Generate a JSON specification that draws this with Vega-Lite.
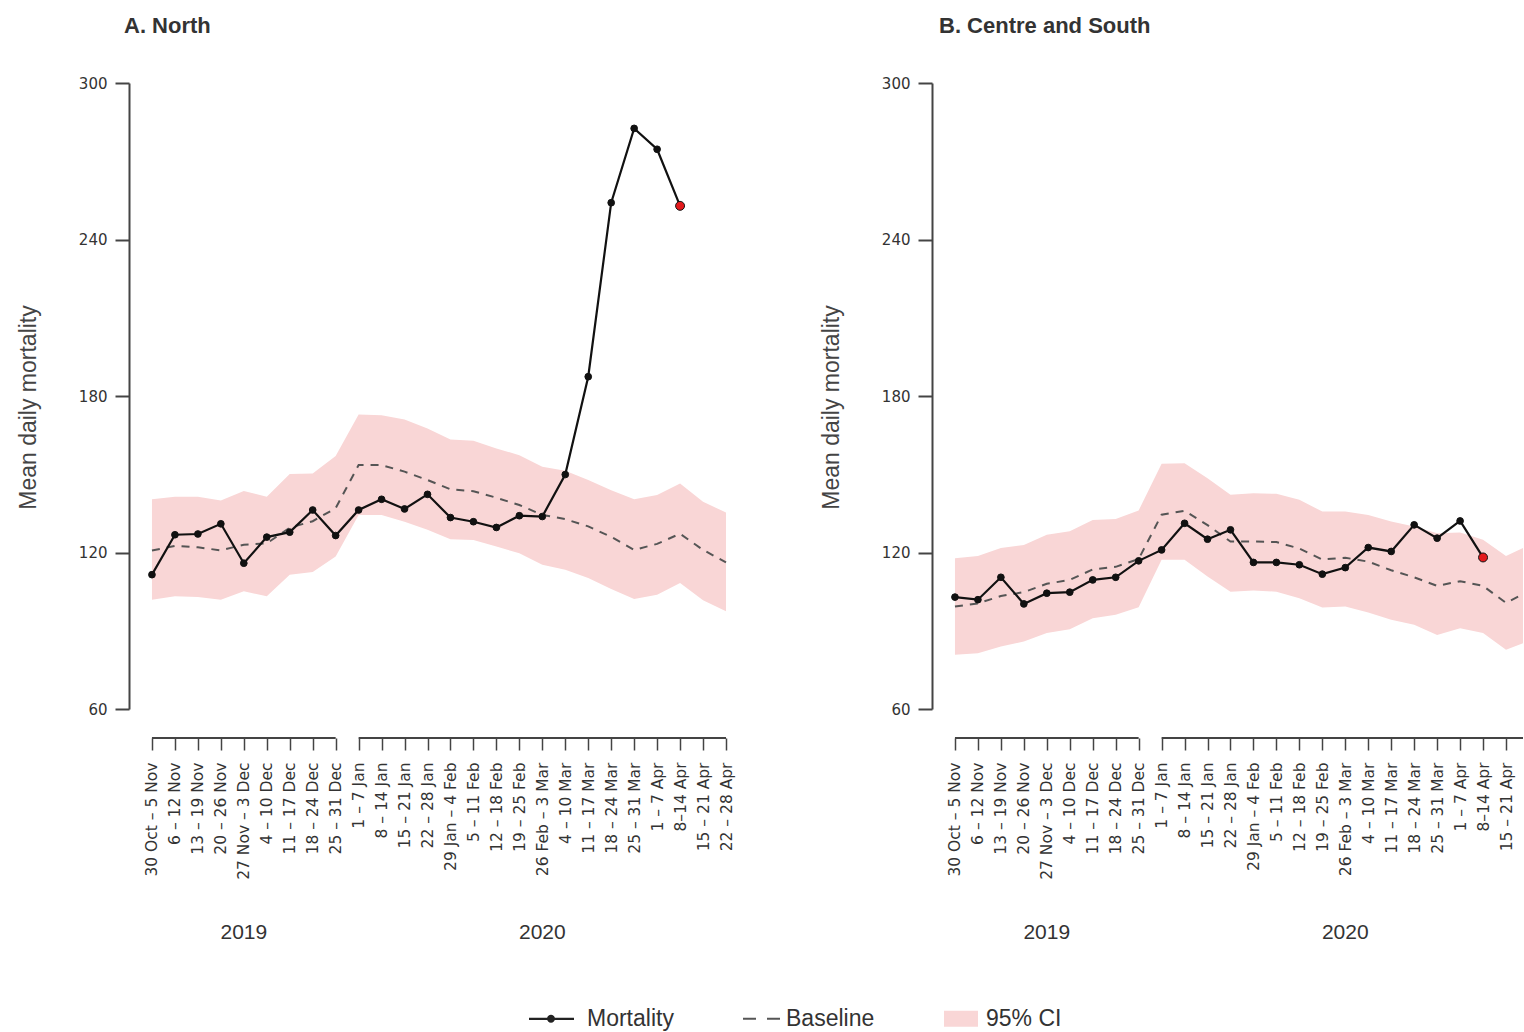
{
  "$schema": "https://vega.github.io/schema/vega-lite/v6.json",
  "padding": {"left": 17, "top": 15, "right": 0, "bottom": 0},
  "background": "white",
  "config": {
    "view": {"stroke": null},
    "font": "Liberation Sans",
    "axis": {"grid": false},
    "axisY": {"domainColor": "#444", "domainWidth": 2, "tickColor": "#444", "tickWidth": 2, "tickSize": 14, "labelFont": "DejaVu Sans", "labelFontSize": 15, "labelColor": "#333", "labelPadding": 8, "titleFont": "Liberation Sans", "titleFontSize": 23, "titleFontWeight": "normal", "titleColor": "#444", "titlePadding": 38}
  },
  "spacing": 206,
  "bounds": "flush",
  "datasets": {
    "north": [
      {"i": 0, "wk": "30 Oct – 5 Nov", "mort": 111.5, "base": 120.8, "lo": 101.9, "hi": 140.4},
      {"i": 1, "wk": "6 – 12 Nov", "mort": 126.8, "base": 122.5, "lo": 103.2, "hi": 141.4},
      {"i": 2, "wk": "13 – 19 Nov", "mort": 127.1, "base": 122.0, "lo": 102.9, "hi": 141.4},
      {"i": 3, "wk": "20 – 26 Nov", "mort": 131.0, "base": 120.8, "lo": 101.9, "hi": 139.9},
      {"i": 4, "wk": "27 Nov – 3 Dec", "mort": 115.9, "base": 123.0, "lo": 105.1, "hi": 143.6},
      {"i": 5, "wk": "4 – 10 Dec", "mort": 125.9, "base": 123.5, "lo": 103.2, "hi": 141.4},
      {"i": 6, "wk": "11 – 17 Dec", "mort": 127.8, "base": 129.5, "lo": 111.5, "hi": 150.1},
      {"i": 7, "wk": "18 – 24 Dec", "mort": 136.3, "base": 132.0, "lo": 112.5, "hi": 150.3},
      {"i": 8, "wk": "25 – 31 Dec", "mort": 126.5, "base": 137.0, "lo": 118.5, "hi": 157.0},
      {"i": 9, "wk": "1 – 7 Jan", "mort": 136.3, "base": 153.5, "lo": 134.4, "hi": 172.9},
      {"i": 10, "wk": "8 – 14 Jan", "mort": 140.4, "base": 153.5, "lo": 134.4, "hi": 172.6},
      {"i": 11, "wk": "15 – 21 Jan", "mort": 136.7, "base": 151.0, "lo": 131.8, "hi": 171.0},
      {"i": 12, "wk": "22 – 28 Jan", "mort": 142.3, "base": 147.8, "lo": 128.7, "hi": 167.5},
      {"i": 13, "wk": "29 Jan – 4 Feb", "mort": 133.4, "base": 144.2, "lo": 125.1, "hi": 163.3},
      {"i": 14, "wk": "5 – 11 Feb", "mort": 131.8, "base": 143.5, "lo": 124.8, "hi": 162.8},
      {"i": 15, "wk": "12 – 18 Feb", "mort": 129.6, "base": 141.0, "lo": 122.3, "hi": 159.9},
      {"i": 16, "wk": "19 – 25 Feb", "mort": 134.1, "base": 138.2, "lo": 119.7, "hi": 157.3},
      {"i": 17, "wk": "26 Feb – 3 Mar", "mort": 133.8, "base": 134.4, "lo": 115.3, "hi": 152.9},
      {"i": 18, "wk": "4 – 10 Mar", "mort": 149.9, "base": 132.8, "lo": 113.4, "hi": 151.3},
      {"i": 19, "wk": "11 – 17 Mar", "mort": 187.4, "base": 130.0, "lo": 110.2, "hi": 147.8},
      {"i": 20, "wk": "18 – 24 Mar", "mort": 254.1, "base": 126.0, "lo": 106.0, "hi": 143.9},
      {"i": 21, "wk": "25 – 31 Mar", "mort": 282.6, "base": 121.0, "lo": 102.2, "hi": 140.4},
      {"i": 22, "wk": "1 – 7 Apr", "mort": 274.6, "base": 123.3, "lo": 103.8, "hi": 142.0},
      {"i": 23, "wk": "8–14 Apr", "mort": 252.9, "base": 127.2, "lo": 108.3, "hi": 146.5},
      {"i": 24, "wk": "15 – 21 Apr", "mort": null, "base": 121.0, "lo": 101.7, "hi": 139.5},
      {"i": 25, "wk": "22 – 28 Apr", "mort": null, "base": 116.2, "lo": 97.5, "hi": 135.3}
    ],
    "south": [
      {"i": 0, "wk": "30 Oct – 5 Nov", "mort": 102.9, "base": 99.3, "lo": 80.8, "hi": 117.8},
      {"i": 1, "wk": "6 – 12 Nov", "mort": 101.9, "base": 100.5, "lo": 81.4, "hi": 118.7},
      {"i": 2, "wk": "13 – 19 Nov", "mort": 110.5, "base": 103.3, "lo": 84.0, "hi": 121.7},
      {"i": 3, "wk": "20 – 26 Nov", "mort": 100.3, "base": 104.8, "lo": 85.9, "hi": 122.9},
      {"i": 4, "wk": "27 Nov – 3 Dec", "mort": 104.4, "base": 108.0, "lo": 89.1, "hi": 126.8},
      {"i": 5, "wk": "4 – 10 Dec", "mort": 104.8, "base": 109.5, "lo": 90.6, "hi": 128.1},
      {"i": 6, "wk": "11 – 17 Dec", "mort": 109.5, "base": 113.5, "lo": 94.8, "hi": 132.5},
      {"i": 7, "wk": "18 – 24 Dec", "mort": 110.5, "base": 114.5, "lo": 96.1, "hi": 132.8},
      {"i": 8, "wk": "25 – 31 Dec", "mort": 116.8, "base": 117.5, "lo": 99.0, "hi": 136.1},
      {"i": 9, "wk": "1 – 7 Jan", "mort": 121.0, "base": 134.5, "lo": 117.2, "hi": 154.0},
      {"i": 10, "wk": "8 – 14 Jan", "mort": 131.2, "base": 136.0, "lo": 117.2, "hi": 154.2},
      {"i": 11, "wk": "15 – 21 Jan", "mort": 125.1, "base": 130.5, "lo": 110.8, "hi": 148.5},
      {"i": 12, "wk": "22 – 28 Jan", "mort": 128.7, "base": 124.2, "lo": 105.0, "hi": 142.1},
      {"i": 13, "wk": "29 Jan – 4 Feb", "mort": 116.2, "base": 124.2, "lo": 105.4, "hi": 142.7},
      {"i": 14, "wk": "5 – 11 Feb", "mort": 116.2, "base": 124.0, "lo": 105.0, "hi": 142.5},
      {"i": 15, "wk": "12 – 18 Feb", "mort": 115.3, "base": 121.5, "lo": 102.5, "hi": 140.2},
      {"i": 16, "wk": "19 – 25 Feb", "mort": 111.7, "base": 117.3, "lo": 98.9, "hi": 135.7},
      {"i": 17, "wk": "26 Feb – 3 Mar", "mort": 114.2, "base": 118.0, "lo": 99.3, "hi": 135.7},
      {"i": 18, "wk": "4 – 10 Mar", "mort": 121.9, "base": 116.5, "lo": 97.0, "hi": 134.4},
      {"i": 19, "wk": "11 – 17 Mar", "mort": 120.4, "base": 113.2, "lo": 94.2, "hi": 131.9},
      {"i": 20, "wk": "18 – 24 Mar", "mort": 130.6, "base": 110.5, "lo": 92.3, "hi": 130.0},
      {"i": 21, "wk": "25 – 31 Mar", "mort": 125.5, "base": 107.2, "lo": 88.4, "hi": 127.4},
      {"i": 22, "wk": "1 – 7 Apr", "mort": 132.1, "base": 109.0, "lo": 91.0, "hi": 127.7},
      {"i": 23, "wk": "8–14 Apr", "mort": 118.1, "base": 107.2, "lo": 89.1, "hi": 124.9},
      {"i": 24, "wk": "15 – 21 Apr", "mort": null, "base": 100.7, "lo": 82.7, "hi": 118.7},
      {"i": 25, "wk": "22 – 28 Apr", "mort": null, "base": 104.0, "lo": 85.2, "hi": 121.7}
    ],
    "years": [
      {"i": 4, "yr": "2019"},
      {"i": 17, "yr": "2020"}
    ],
    "brackets": [
      {"i": 0, "i2": 8},
      {"i": 9, "i2": 25}
    ],
    "legend": [
      {"k": "Mortality"},
      {"k": "Baseline"},
      {"k": "95% CI"}
    ]
  },
  "hconcat": [
    {
      "width": 597,
      "height": 626,
      "title": {"text": "A. North", "anchor": "start", "frame": "group", "font": "Liberation Sans", "fontSize": 22, "fontWeight": "bold", "color": "#333", "offset": 38, "dx": -5},
      "encoding": {
        "x": {
          "field": "i", "type": "quantitative",
          "scale": {"domain": [-1, 25], "nice": false, "zero": false},
          "axis": {
            "values": [0,1,2,3,4,5,6,7,8,9,10,11,12,13,14,15,16,17,18,19,20,21,22,23,24,25],
            "labelExpr": "['30 Oct – 5 Nov','6 – 12 Nov','13 – 19 Nov','20 – 26 Nov','27 Nov – 3 Dec','4 – 10 Dec','11 – 17 Dec','18 – 24 Dec','25 – 31 Dec','1 – 7 Jan','8 – 14 Jan','15 – 21 Jan','22 – 28 Jan','29 Jan – 4 Feb','5 – 11 Feb','12 – 18 Feb','19 – 25 Feb','26 Feb – 3 Mar','4 – 10 Mar','11 – 17 Mar','18 – 24 Mar','25 – 31 Mar','1 – 7 Apr','8–14 Apr','15 – 21 Apr','22 – 28 Apr'][datum.value]",
            "labelAngle": -90, "labelFont": "DejaVu Sans", "labelFontSize": 15.5, "labelColor": "#333",
            "labelPadding": 12, "labelDy": 2, "labelOverlap": false, "labelBound": false, "labelFlush": false,
            "tickColor": "#444", "tickWidth": 1.5, "tickSize": 12, "domain": false, "offset": 29, "title": null
          }
        }
      },
      "layer": [
        {
          "data": {"name": "north"},
          "mark": {"type": "area", "color": "#f9d6d6", "opacity": 1},
          "encoding": {
            "y": {"field": "lo", "type": "quantitative", "scale": {"domain": [60, 300], "nice": false, "zero": false}, "axis": {"title": "Mean daily mortality", "values": [60, 120, 180, 240, 300], "titleY": 324}},
            "y2": {"field": "hi"}
          }
        },
        {
          "data": {"name": "north"},
          "mark": {"type": "line", "color": "#555", "strokeWidth": 2, "strokeDash": [8, 7]},
          "encoding": {"y": {"field": "base", "type": "quantitative", "axis": {"title": "Mean daily mortality", "values": [60, 120, 180, 240, 300], "titleY": 324}}}
        },
        {
          "data": {"name": "north"},
          "mark": {"type": "line", "color": "#111", "strokeWidth": 2.2},
          "encoding": {"y": {"field": "mort", "type": "quantitative", "axis": {"title": "Mean daily mortality", "values": [60, 120, 180, 240, 300], "titleY": 324}}}
        },
        {
          "data": {"name": "north"},
          "mark": {"type": "point", "filled": true, "opacity": 1, "stroke": "#111", "strokeWidth": 1},
          "encoding": {
            "y": {"field": "mort", "type": "quantitative", "axis": {"title": "Mean daily mortality", "values": [60, 120, 180, 240, 300], "titleY": 324}},
            "fill": {"condition": {"test": "datum.i === 23", "value": "#e3191c"}, "value": "#111"},
            "size": {"condition": {"test": "datum.i === 23", "value": 80}, "value": 45}
          }
        },
        {
          "data": {"name": "brackets"},
          "mark": {"type": "rule", "color": "#444", "strokeWidth": 2, "yOffset": 29},
          "encoding": {"x2": {"field": "i2"}, "y": {"datum": 60, "axis": {"title": "Mean daily mortality", "values": [60, 120, 180, 240, 300], "titleY": 324}}}
        },
        {
          "data": {"name": "years"},
          "mark": {"type": "text", "font": "Liberation Sans", "fontSize": 21, "color": "#333", "yOffset": 224, "baseline": "middle"},
          "encoding": {"text": {"field": "yr"}, "y": {"datum": 60, "axis": {"title": "Mean daily mortality", "values": [60, 120, 180, 240, 300], "titleY": 324}}}
        },
        {
          "data": {"name": "legend"},
          "mark": {"type": "point", "filled": true, "opacity": 0},
          "encoding": {
            "y": {"datum": 200, "axis": {"title": "Mean daily mortality", "values": [60, 120, 180, 240, 300], "titleY": 324}},
            "shape": {
              "field": "k", "type": "nominal",
              "scale": {"domain": ["Mortality", "Baseline", "95% CI"], "range": ["M-3,-0.09H0.6V0.09H-3Z M-0.92,0A0.32,0.32,0,1,1,-1.56,0A0.32,0.32,0,1,1,-0.92,0Z", "M-1.8,-0.08H-0.76V0.08H-1.8Z M0.12,-0.08H1.16V0.08H0.12Z", "M-1.72,-0.64H1V0.64H-1.72Z"]},
              "legend": {"title": null, "orient": "none", "legendX": 425, "legendY": 923, "direction": "horizontal", "symbolSize": 625, "symbolStrokeWidth": 0, "symbolOpacity": 1, "labelFont": "Liberation Sans", "labelFontSize": 23, "labelColor": "#333", "labelOffset": 8, "columnPadding": 69, "padding": 0}
            },
            "fill": {
              "field": "k", "type": "nominal",
              "scale": {"domain": ["Mortality", "Baseline", "95% CI"], "range": ["#222", "#555", "#f9d6d6"]},
              "legend": {"title": null, "orient": "none", "legendX": 425, "legendY": 923, "direction": "horizontal", "symbolSize": 625, "symbolStrokeWidth": 0, "symbolOpacity": 1, "labelFont": "Liberation Sans", "labelFontSize": 23, "labelColor": "#333", "labelOffset": 8, "columnPadding": 69, "padding": 0}
            }
          }
        }
      ]
    },
    {
      "width": 591,
      "height": 626,
      "title": {"text": "B. Centre and South", "anchor": "start", "frame": "group", "font": "Liberation Sans", "fontSize": 22, "fontWeight": "bold", "color": "#333", "offset": 38, "dx": 7},
      "encoding": {
        "x": {
          "field": "i", "type": "quantitative",
          "scale": {"domain": [-1, 24.74], "nice": false, "zero": false, "clamp": true},
          "axis": {
            "values": [0,1,2,3,4,5,6,7,8,9,10,11,12,13,14,15,16,17,18,19,20,21,22,23,24],
            "labelExpr": "['30 Oct – 5 Nov','6 – 12 Nov','13 – 19 Nov','20 – 26 Nov','27 Nov – 3 Dec','4 – 10 Dec','11 – 17 Dec','18 – 24 Dec','25 – 31 Dec','1 – 7 Jan','8 – 14 Jan','15 – 21 Jan','22 – 28 Jan','29 Jan – 4 Feb','5 – 11 Feb','12 – 18 Feb','19 – 25 Feb','26 Feb – 3 Mar','4 – 10 Mar','11 – 17 Mar','18 – 24 Mar','25 – 31 Mar','1 – 7 Apr','8–14 Apr','15 – 21 Apr','22 – 28 Apr'][datum.value]",
            "labelAngle": -90, "labelFont": "DejaVu Sans", "labelFontSize": 15.5, "labelColor": "#333",
            "labelPadding": 12, "labelDy": 2, "labelOverlap": false, "labelBound": false, "labelFlush": false,
            "tickColor": "#444", "tickWidth": 1.5, "tickSize": 12, "domain": false, "offset": 29, "title": null
          }
        }
      },
      "layer": [
        {
          "data": {"name": "south"},
          "mark": {"type": "area", "color": "#f9d6d6", "opacity": 1},
          "encoding": {
            "y": {"field": "lo", "type": "quantitative", "scale": {"domain": [60, 300], "nice": false, "zero": false}, "axis": {"title": "Mean daily mortality", "values": [60, 120, 180, 240, 300], "titleY": 324}},
            "y2": {"field": "hi"}
          }
        },
        {
          "data": {"name": "south"},
          "mark": {"type": "line", "color": "#555", "strokeWidth": 2, "strokeDash": [8, 7]},
          "encoding": {"y": {"field": "base", "type": "quantitative", "axis": {"title": "Mean daily mortality", "values": [60, 120, 180, 240, 300], "titleY": 324}}}
        },
        {
          "data": {"name": "south"},
          "mark": {"type": "line", "color": "#111", "strokeWidth": 2.2},
          "encoding": {"y": {"field": "mort", "type": "quantitative", "axis": {"title": "Mean daily mortality", "values": [60, 120, 180, 240, 300], "titleY": 324}}}
        },
        {
          "data": {"name": "south"},
          "mark": {"type": "point", "filled": true, "opacity": 1, "stroke": "#111", "strokeWidth": 1},
          "encoding": {
            "y": {"field": "mort", "type": "quantitative", "axis": {"title": "Mean daily mortality", "values": [60, 120, 180, 240, 300], "titleY": 324}},
            "fill": {"condition": {"test": "datum.i === 23", "value": "#e3191c"}, "value": "#111"},
            "size": {"condition": {"test": "datum.i === 23", "value": 80}, "value": 45}
          }
        },
        {
          "data": {"name": "brackets"},
          "mark": {"type": "rule", "color": "#444", "strokeWidth": 2, "yOffset": 29},
          "encoding": {"x2": {"field": "i2"}, "y": {"datum": 60, "axis": {"title": "Mean daily mortality", "values": [60, 120, 180, 240, 300], "titleY": 324}}}
        },
        {
          "data": {"name": "years"},
          "mark": {"type": "text", "font": "Liberation Sans", "fontSize": 21, "color": "#333", "yOffset": 224, "baseline": "middle"},
          "encoding": {"text": {"field": "yr"}, "y": {"datum": 60, "axis": {"title": "Mean daily mortality", "values": [60, 120, 180, 240, 300], "titleY": 324}}}
        }
      ]
    }
  ]
}
